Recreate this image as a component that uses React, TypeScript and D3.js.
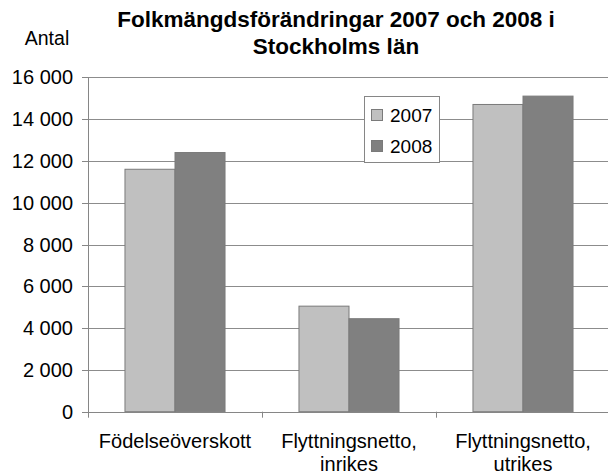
import React from 'react';
import * as d3 from 'd3';

const categories = ['Födelseöverskott', 'Flyttningsnetto,\ninrikes', 'Flyttningsnetto,\nutrikes'];
const seriesNames = ['2007', '2008'];
const values2007 = [11600, 5050, 14700];
const values2008 = [12400, 4450, 15100];
const yTicks = [0, 2000, 4000, 6000, 8000, 10000, 12000, 14000, 16000];
const titleLines = ['Folkmängdsförändringar 2007 och 2008 i', 'Stockholms län'];

const W = 608;
const H = 475;
const font = '"Liberation Sans", Arial, sans-serif';
const colors = ['#c0c0c0', '#808080'];

const App: React.FC = () => {
  const left = 88;
  const top = 77.3;
  const bottom = 411.7;

  const y = d3.scaleLinear().domain([0, 16000]).range([bottom, top]);
  const x = d3.scaleBand<string>().domain(categories).range([left, 610]);
  const band = x.bandwidth();
  const gap = band * 0.425;
  const x1 = d3.scaleBand<string>().domain(seriesNames).range([gap / 2, band - gap / 2]);

  const fmt = (v: number) => d3.format(',')(v).replace(/,/g, ' ');
  const series = [values2007, values2008];

  return (
    <div style={{ position: 'absolute', left: 0, top: 0 }}>
      <svg width={W} height={H} style={{ display: 'block', background: '#fff' }}>
        {/* title */}
        {titleLines.map((t, i) => (
          <text key={t} x={336} y={27 + i * 27} textAnchor="middle" fontFamily={font}
            fontWeight="bold" fontSize={22.5} fill="#000">{t}</text>
        ))}
        <text x={47} y={45} textAnchor="middle" fontFamily={font} fontSize={19.5} fill="#000">Antal</text>

        {/* gridlines */}
        {yTicks.filter(t => t > 0).map(t => (
          <line key={t} x1={left} x2={W} y1={Math.round(y(t)) + 0.5} y2={Math.round(y(t)) + 0.5}
            stroke="#8c8c8c" strokeWidth={1} />
        ))}

        {/* bars */}
        {categories.map((c, ci) => (
          <g key={c} transform={`translate(${x(c)},0)`}>
            {seriesNames.map((s, si) => (
              <rect key={s} x={x1(s)} y={y(series[si][ci])} width={x1.bandwidth()}
                height={bottom - y(series[si][ci])} fill={colors[si]} stroke="#7a7a7a" strokeWidth={1} />
            ))}
          </g>
        ))}

        {/* axes */}
        <line x1={left + 0.5} x2={left + 0.5} y1={top} y2={bottom + 6} stroke="#868686" />
        <line x1={left} x2={W} y1={Math.round(bottom) + 0.5} y2={Math.round(bottom) + 0.5} stroke="#868686" />
        {yTicks.map(t => (
          <g key={t}>
            <line x1={left - 6} x2={left} y1={Math.round(y(t)) + 0.5} y2={Math.round(y(t)) + 0.5} stroke="#868686" />
            <text x={73} y={y(t)} dy="0.35em" textAnchor="end" fontFamily={font} fontSize={20} fill="#000">{fmt(t)}</text>
          </g>
        ))}
        {categories.map(c => (
          <line key={c} x1={Math.round(x(c)! + band) + 0.5} x2={Math.round(x(c)! + band) + 0.5}
            y1={bottom} y2={bottom + 6} stroke="#868686" />
        ))}
        {categories.map(c => (
          <text key={c} x={x(c)! + band / 2} y={448} textAnchor="middle" fontFamily={font} fontSize={20} fill="#000">
            {c.split('\n').map((l, i) => (
              <tspan key={i} x={x(c)! + band / 2} dy={i === 0 ? 0 : 23}>{l}</tspan>
            ))}
          </text>
        ))}

        {/* legend */}
        <rect x={364.5} y={96.5} width={75} height={66} fill="#fff" stroke="#868686" />
        {seriesNames.map((s, i) => (
          <g key={s} transform={`translate(371,${109 + i * 31})`}>
            <rect x={0.5} y={0.5} width={11} height={11} fill={colors[i]} stroke="#7a7a7a" />
            <text x={19} y={6} dy="0.35em" fontFamily={font} fontSize={19} fill="#000">{s}</text>
          </g>
        ))}
      </svg>
    </div>
  );
};

export default App;
